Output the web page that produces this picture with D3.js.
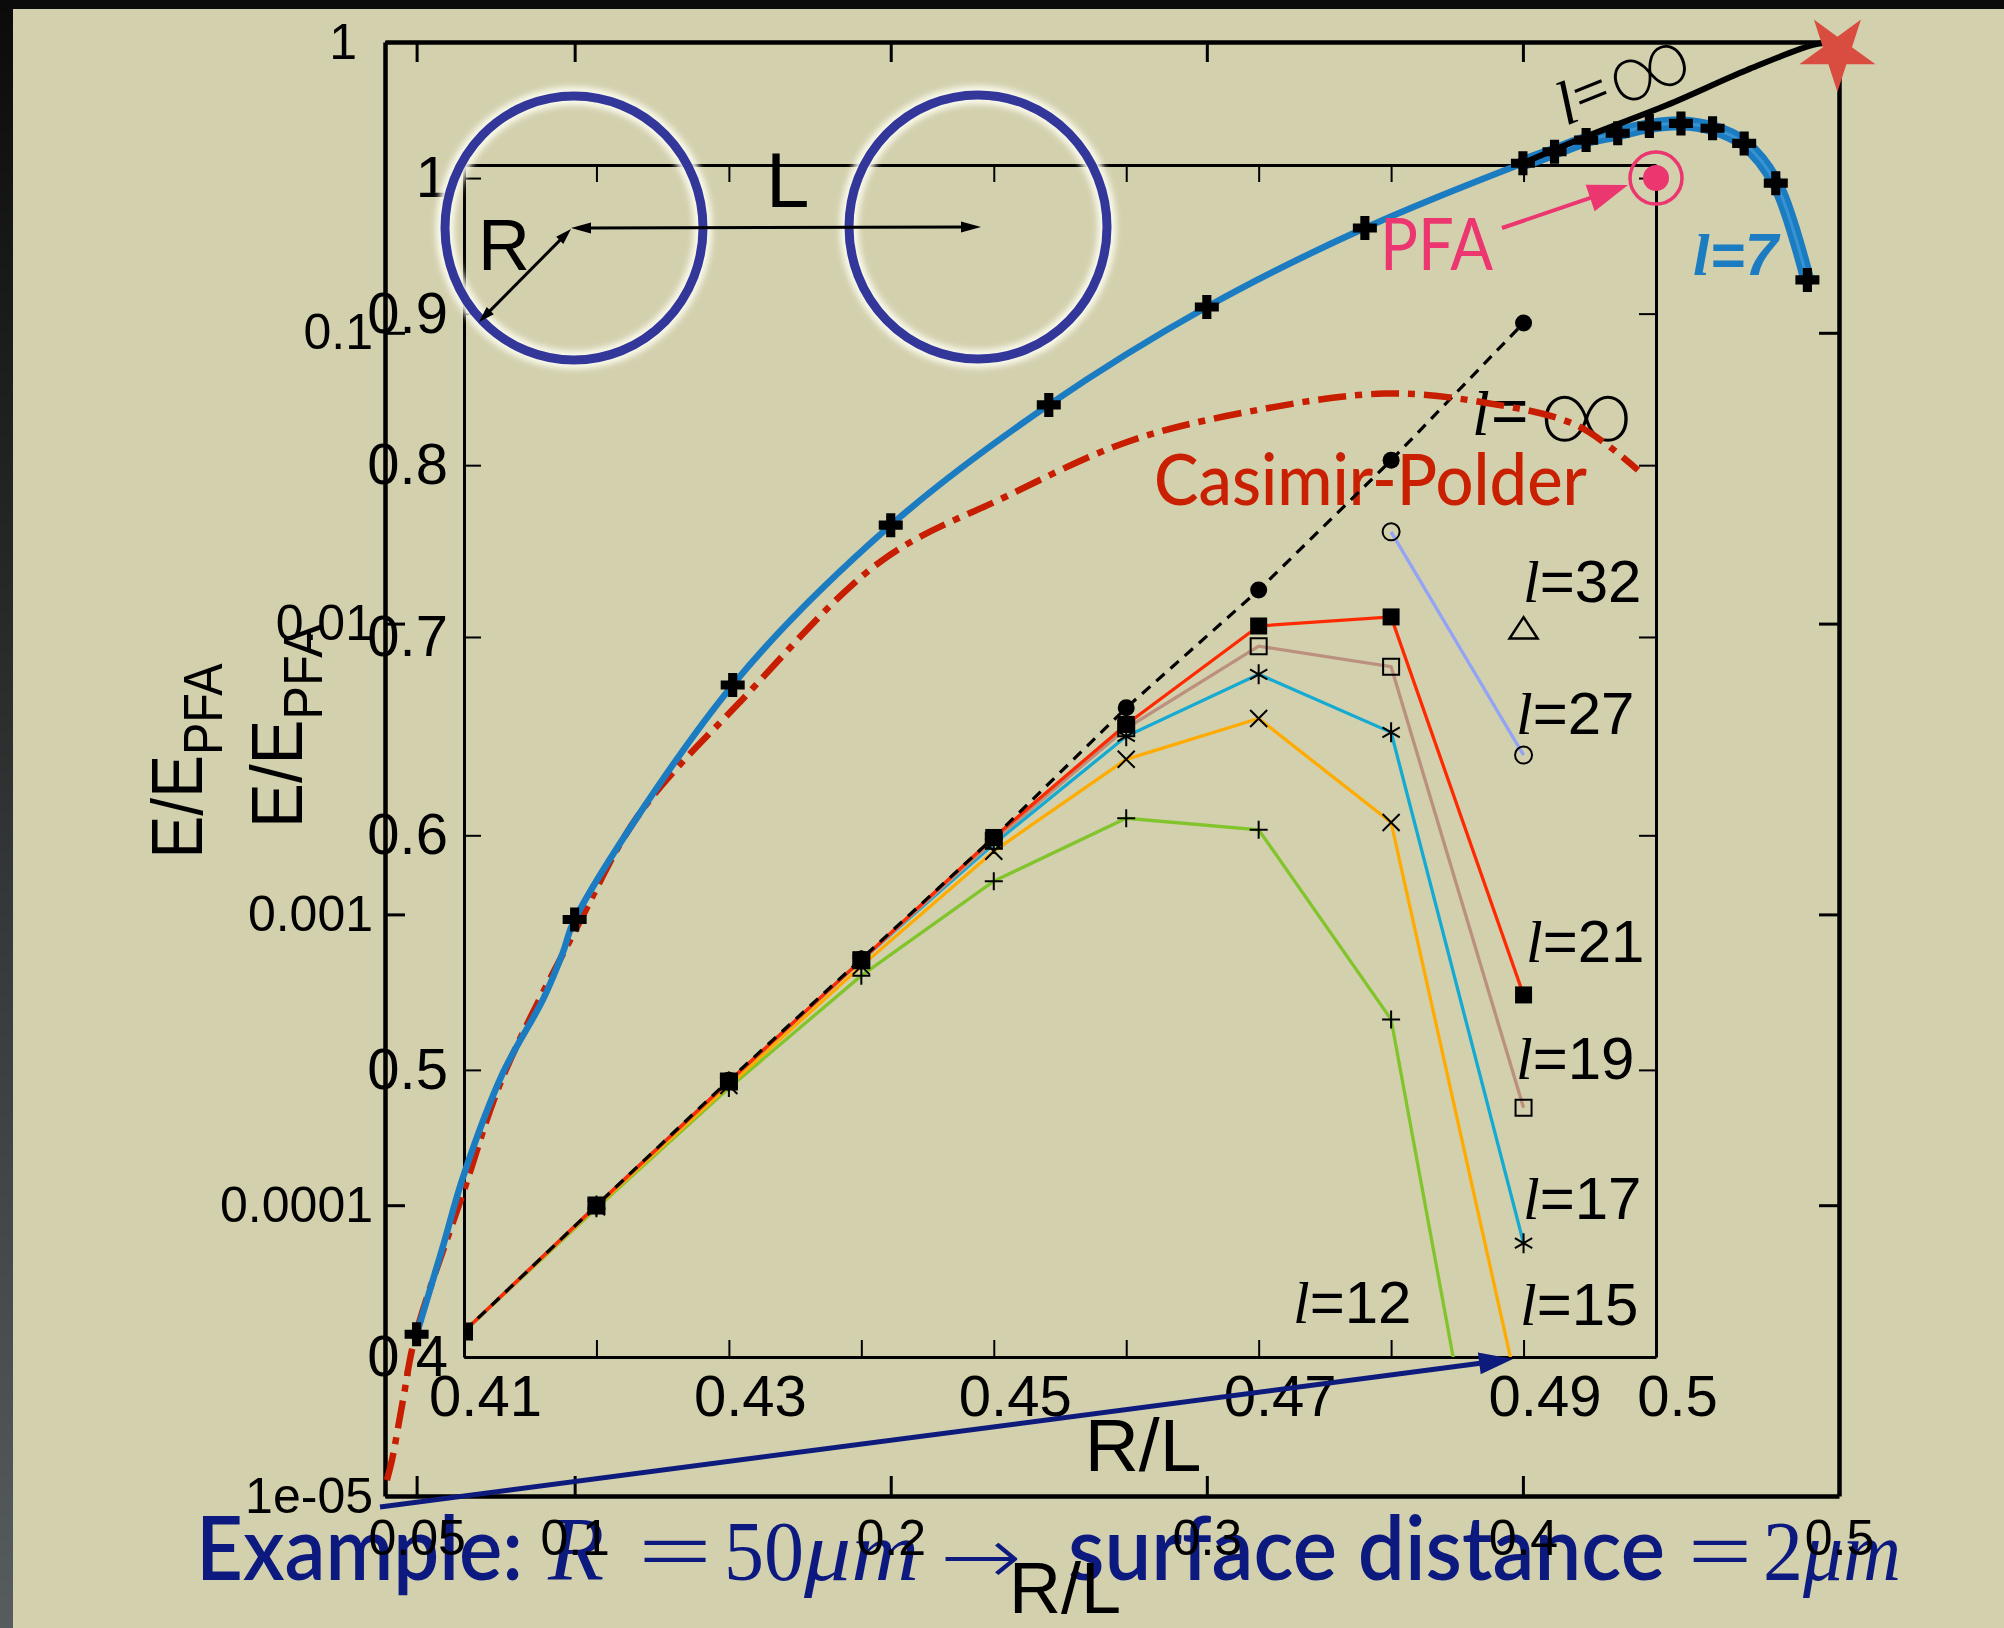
<!DOCTYPE html>
<html>
<head>
<meta charset="utf-8">
<title>E/EPFA versus R/L</title>
<script src="https://cdn.jsdelivr.net/npm/d3@7"></script>
<style>
  html, body { margin: 0; padding: 0; background: #d3d0ae; }
  svg { display: block; }
</style>
</head>
<body>
<script>
// ---------- values ----------

// outer plot: R/L linear, E/EPFA log
const outerXTicks = [0.05, 0.1, 0.2, 0.3, 0.4, 0.5];
const outerXLabels = ['0.05', '0.1', '0.2', '0.3', '0.4', '0.5'];
const outerYTicks = [1e-5, 1e-4, 1e-3, 1e-2, 0.1, 1];
const outerYLabels = ['1e-05', '0.0001', '0.001', '0.01', '0.1', '1'];

// l = 7 curve (blue), markers sit on some of its points
const l7X = [0.05, 0.0583, 0.0647, 0.0773, 0.09, 0.0963, 0.1, 0.15, 0.2, 0.25, 0.3, 0.35, 0.4,
             0.41, 0.42, 0.43, 0.44, 0.45, 0.46, 0.47, 0.48, 0.49];
const l7Y = [3.6e-5, 7.2e-5, 1.25e-4, 2.85e-4, 5.1e-4, 7.4e-4, 9.6e-4, 6.15e-3, 0.0218, 0.0565, 0.1227, 0.2293, 0.383,
             0.4195, 0.460, 0.4853, 0.514, 0.525, 0.505, 0.448, 0.327, 0.152];
const l7MarkX = [0.05, 0.1, 0.15, 0.2, 0.25, 0.3, 0.35, 0.4, 0.41, 0.42, 0.43, 0.44, 0.45, 0.46, 0.47, 0.48, 0.49];

// l = infinity limit (black, outer plot)
const lInfOuterX = [0.40, 0.4212, 0.4456, 0.4709, 0.4918, 0.4985];
const lInfOuterY = [0.383, 0.4786, 0.607, 0.801, 0.977, 1.0];

// Casimir-Polder (red dash-dot)
const cpX = [0.0406, 0.0422, 0.0457, 0.0495, 0.0647, 0.0773, 0.1011, 0.1204, 0.1526, 0.1972,
             0.2355, 0.2757, 0.3162, 0.3564, 0.3867, 0.4171, 0.4364];
const cpY = [1.135e-5, 1.33e-5, 2.14e-5, 3.52e-5, 1.10e-4, 2.76e-4, 9.2e-4, 2.21e-3, 5.42e-3, 0.01648,
             0.02704, 0.04246, 0.0543, 0.0618, 0.0578, 0.048, 0.0337];

// star at the touching limit
const starX = [0.4995];
const starY = [0.924];

// inner plot: R/L 0.41..0.5, E/EPFA 0.4..1 (log)
const innerXTicks = [0.41, 0.42, 0.43, 0.44, 0.45, 0.46, 0.47, 0.48, 0.49, 0.5];
const innerXLabels = ['0.41', '', '0.43', '', '0.45', '', '0.47', '', '0.49', '0.5'];
const innerYTicks = [0.4, 0.5, 0.6, 0.7, 0.8, 0.9, 1];
const innerYLabels = ['0.4', '0.5', '0.6', '0.7', '0.8', '0.9', '1'];

const rl = [0.41, 0.42, 0.43, 0.44, 0.45, 0.46, 0.47, 0.48, 0.49];
const lInf = [0.408, 0.450, 0.496, 0.545, 0.599, 0.6625, 0.726, 0.803, 0.8935];
const l21 = [0.408, 0.450, 0.4955, 0.5445, 0.599, 0.654, 0.706, 0.711, 0.530];
const l19 = [0.408, 0.450, 0.4955, 0.5445, 0.5975, 0.652, 0.695, 0.684, 0.4855];
const l17 = [0.408, 0.450, 0.4955, 0.5445, 0.596, 0.648, 0.680, 0.650, 0.437];
const l15 = [0.408, 0.4495, 0.494, 0.542, 0.5926, 0.6365, 0.657, 0.606, 0.382];
const l12 = [0.408, 0.449, 0.493, 0.538, 0.579, 0.608, 0.6026, 0.520, 0.297];
const l27X = [0.48, 0.49];
const l27 = [0.7596, 0.6386];
const l32X = [0.49];
const l32 = [0.7047];

// PFA point
const pfaX = [0.5];
const pfaY = [1.0];

// ---------- drawing ----------
const W = 2004, H = 1628;
const SANS = "'Liberation Sans', Arial, Helvetica, sans-serif";
const SERIF = "'Liberation Serif', 'Times New Roman', serif";
const SLIDE = "Lato, 'Open Sans', sans-serif";
const THIN = "Roboto, 'DejaVu Sans', sans-serif";
const BLUE = '#1b7cc1', NAVY = '#0c1a80', PINK = '#ec3670';

const svg = d3.select('body').append('svg').attr('width', W).attr('height', H);
const defs = svg.append('defs');

// background and slide frame
svg.append('rect').attr('width', W).attr('height', H).attr('fill', '#d3d0ae');
const edge = defs.append('linearGradient').attr('id', 'edge')
    .attr('x1', 0).attr('y1', 0).attr('x2', 0).attr('y2', 1);
edge.append('stop').attr('offset', 0).attr('stop-color', '#0b0b0b');
edge.append('stop').attr('offset', 1).attr('stop-color', '#575c5c');
svg.append('rect').attr('width', 13).attr('height', H).attr('fill', 'url(#edge)');
svg.append('rect').attr('width', W).attr('height', 9).attr('fill', '#0b0b0b');

// scales
const ox = d3.scaleLinear().domain([0.04, 0.5]).range([385, 1839]);
const oy = d3.scaleLog().domain([1e-5, 1]).range([1496, 42]);
const ix = d3.scaleLinear().domain([0.41, 0.5]).range([464, 1656]);
const iy = d3.scaleLog().domain([0.4, 1.0102]).range([1357, 165]);

function txt(g, x, y, s, o) {
    const t = g.append('text').attr('x', x).attr('y', y).text(s)
        .style('font-family', o.f || SANS)
        .style('font-size', o.size + 'px')
        .attr('fill', o.fill || '#000');
    if (o.italic) t.style('font-style', 'italic');
    if (o.weight) t.style('font-weight', o.weight);
    if (o.anchor) t.attr('text-anchor', o.anchor);
    if (o.len) t.attr('textLength', o.len).attr('lengthAdjust', 'spacingAndGlyphs');
    return t;
}

function arrow(g, x1, y1, x2, y2, o) {
    const dx = x2 - x1, dy = y2 - y1, L = Math.hypot(dx, dy), ux = dx / L, uy = dy / L;
    const head = (tx, ty, sx, sy) => {
        const bx = tx - sx * o.hl, by = ty - sy * o.hl;
        return [[tx, ty], [bx - sy * o.hw / 2, by + sx * o.hw / 2], [bx + sy * o.hw / 2, by - sx * o.hw / 2]];
    };
    const a = o.both ? o.hl * 0.8 : 0, b = o.hl * 0.8;
    g.append('line')
        .attr('x1', x1 + ux * a).attr('y1', y1 + uy * a)
        .attr('x2', x2 - ux * b).attr('y2', y2 - uy * b)
        .attr('stroke', o.color).attr('stroke-width', o.w);
    g.append('polygon').attr('points', head(x2, y2, ux, uy).join(' ')).attr('fill', o.color);
    if (o.both) g.append('polygon').attr('points', head(x1, y1, -ux, -uy).join(' ')).attr('fill', o.color);
}

function styleAxis(a, lineW, tickW, size) {
    a.attr('font-family', SANS).attr('font-size', size);
    a.select('.domain').attr('stroke', '#000').attr('stroke-width', lineW);
    a.selectAll('.tick line').attr('stroke', '#000').attr('stroke-width', tickW);
    a.selectAll('.tick text').attr('fill', '#000');
    return a;
}

// ---- slide text underneath the plots ----
const ex = svg.append('g');
txt(ex, 196, 1580, 'Example:', {f: SLIDE, size: 88, len: 327, fill: NAVY, weight: 600});
txt(ex, 548, 1580, 'R', {f: SERIF, size: 92, italic: true, fill: NAVY});
txt(ex, 638, 1580, '=', {f: SERIF, size: 84, len: 74, fill: NAVY});
txt(ex, 724, 1580, '50', {f: SERIF, size: 84, len: 80, fill: NAVY});
txt(ex, 804, 1580, 'μm', {f: SERIF, size: 84, italic: true, len: 115, fill: NAVY});
txt(ex, 940, 1584, '→', {f: "'DejaVu Sans', sans-serif", size: 80, len: 82, fill: NAVY, weight: 200});
txt(ex, 1068, 1580, 'surface distance', {f: SLIDE, size: 88, len: 597, fill: NAVY, weight: 600});
txt(ex, 1688, 1580, '=', {f: SERIF, size: 84, len: 64, fill: NAVY});
txt(ex, 1763, 1580, '2', {f: SERIF, size: 84, len: 40, fill: NAVY});
txt(ex, 1803, 1580, 'μm', {f: SERIF, size: 84, italic: true, len: 98, fill: NAVY});

// curve labels of the inner plot
const lab = svg.append('g');
function lLabel(x, y, rest) {
    const t = lab.append('text').attr('x', x).attr('y', y).style('font-size', '60px').attr('fill', '#000');
    t.append('tspan').style('font-family', SERIF).style('font-style', 'italic').text('l');
    t.append('tspan').style('font-family', SANS).text(rest);
}
lLabel(1523, 602, '=32');
lLabel(1516, 734, '=27');
lLabel(1526, 962, '=21');
lLabel(1516, 1079, '=19');
lLabel(1523, 1219, '=17');
lLabel(1520, 1325, '=15');
lLabel(1293, 1323, '=12');
txt(lab, 1472, 435, 'l', {f: SERIF, size: 64, italic: true});
txt(lab, 1491, 433, '=', {size: 64});
txt(lab, 1539, 441, '∞', {f: THIN, size: 84, len: 95, weight: 200});
txt(lab, 1154, 505, 'Casimir-Polder', {f: SLIDE, size: 72, len: 433, fill: '#c82000', weight: 500});

// ---- inner plot ----
const inner = svg.append('g');
defs.append('clipPath').attr('id', 'innerClip').append('rect')
    .attr('x', 464).attr('y', 165).attr('width', 1192).attr('height', 1192);

styleAxis(inner.append('g').attr('transform', 'translate(0,1357)')
    .call(d3.axisBottom(ix).tickValues(innerXTicks).tickSize(-17).tickSizeOuter(0).tickPadding(18)
        .tickFormat((d, i) => innerXLabels[i])), 3, 2, 58)
    .selectAll('.tick text').attr('dx', 21);
styleAxis(inner.append('g').attr('transform', 'translate(0,165)')
    .call(d3.axisTop(ix).tickValues(innerXTicks).tickSize(-17).tickSizeOuter(0).tickFormat('')), 3, 2, 58);
styleAxis(inner.append('g').attr('transform', 'translate(464,0)')
    .call(d3.axisLeft(iy).tickValues(innerYTicks).tickSize(-17).tickSizeOuter(0).tickPadding(16)
        .tickFormat((d, i) => innerYLabels[i])), 3, 2, 58);
styleAxis(inner.append('g').attr('transform', 'translate(1656,0)')
    .call(d3.axisRight(iy).tickValues(innerYTicks).tickSize(-17).tickSizeOuter(0).tickFormat('')), 3, 2, 58);

// marker shapes (size argument = radius in px)
const shapes = {
    plus: {draw(c, r) { c.moveTo(-r, 0); c.lineTo(r, 0); c.moveTo(0, -r); c.lineTo(0, r); }},
    times: {draw(c, r) { c.moveTo(-r, -r); c.lineTo(r, r); c.moveTo(-r, r); c.lineTo(r, -r); }},
    star6: {draw(c, r) {
        for (let k = 0; k < 3; k++) {
            const a = Math.PI / 2 + k * Math.PI / 3;
            c.moveTo(-r * Math.cos(a), -r * Math.sin(a)); c.lineTo(r * Math.cos(a), r * Math.sin(a));
        }
    }},
    square: {draw(c, r) { c.rect(-r, -r, 2 * r, 2 * r); }},
    circle: {draw(c, r) { c.moveTo(r, 0); c.arc(0, 0, r, 0, 2 * Math.PI); }},
    triangle: {draw(c, r) { c.moveTo(0, -r * 0.8); c.lineTo(r, r * 0.72); c.lineTo(-r, r * 0.72); c.closePath(); }},
    bold: {draw(c, r) {
        const t = r * 0.38;
        c.moveTo(-t, -r); c.lineTo(t, -r); c.lineTo(t, -t); c.lineTo(r, -t); c.lineTo(r, t); c.lineTo(t, t);
        c.lineTo(t, r); c.lineTo(-t, r); c.lineTo(-t, t); c.lineTo(-r, t); c.lineTo(-r, -t); c.lineTo(-t, -t);
        c.closePath();
    }}
};

const innerSeries = [
    {x: rl, y: l12, color: '#82c42b', shape: 'plus', r: 9, fill: 'none'},
    {x: rl, y: l15, color: '#ffab00', shape: 'times', r: 8.5, fill: 'none'},
    {x: rl, y: l17, color: '#14aad2', shape: 'star6', r: 10, fill: 'none'},
    {x: rl, y: l19, color: '#bb907e', shape: 'square', r: 8, fill: 'none'},
    {x: rl, y: l21, color: '#ff2a00', shape: 'square', r: 8.5, fill: '#000'},
    {x: l27X, y: l27, color: '#94a4f4', shape: 'circle', r: 8.5, fill: 'none'},
    {x: l32X, y: l32, color: '#000', shape: 'triangle', r: 14, fill: 'none'},
    {x: rl, y: lInf, color: '#000', shape: 'circle', r: 8.5, fill: '#000', dash: '11 8'}
];

const iLine = d3.line().x(d => ix(d[0])).y(d => iy(d[1]));
const plotArea = inner.append('g').attr('clip-path', 'url(#innerClip)');
innerSeries.forEach(s => {
    const pts = s.x.map((x, i) => [x, s.y[i]]);
    if (pts.length > 1) {
        plotArea.append('path').attr('d', iLine(pts)).attr('fill', 'none')
            .attr('stroke', s.color).attr('stroke-width', s.dash ? 3.2 : 3.3)
            .attr('stroke-dasharray', s.dash || null);
    }
});
innerSeries.forEach(s => {
    const pts = s.x.map((x, i) => [x, s.y[i]]);
    plotArea.selectAll(null).data(pts).enter().append('path')
        .attr('transform', d => `translate(${ix(d[0])},${iy(d[1])})`)
        .attr('d', d3.symbol().type(shapes[s.shape]).size(s.r))
        .attr('fill', s.fill)
        .attr('stroke', s.fill === 'none' ? '#000' : 'none')
        .attr('stroke-width', s.shape === 'triangle' ? 2.5 : 2);
});

// ---- outer plot ----
const outer = svg.append('g');
styleAxis(outer.append('g').attr('transform', 'translate(0,1496)')
    .call(d3.axisBottom(ox).tickValues(outerXTicks).tickSize(-20).tickSizeOuter(0).tickPadding(23)
        .tickFormat((d, i) => outerXLabels[i])), 4.5, 3, 50);
styleAxis(outer.append('g').attr('transform', 'translate(0,42)')
    .call(d3.axisTop(ox).tickValues(outerXTicks).tickSize(-20).tickSizeOuter(0).tickFormat('')), 4.5, 3, 50);
styleAxis(outer.append('g').attr('transform', 'translate(385,0)')
    .call(d3.axisLeft(oy).tickValues(outerYTicks).tickSize(-20).tickSizeOuter(0).tickPadding(12)
        .tickFormat((d, i) => outerYLabels[i])), 4.5, 3, 50)
    .selectAll('.tick text').attr('dx', d => d === 1 ? -16 : 0);
styleAxis(outer.append('g').attr('transform', 'translate(1839,0)')
    .call(d3.axisRight(oy).tickValues(outerYTicks).tickSize(-20).tickSizeOuter(0).tickFormat('')), 4.5, 3, 50);

const oLine = d3.line().x(d => ox(d[0])).y(d => oy(d[1])).curve(d3.curveCatmullRom.alpha(0.5));

// Casimir-Polder
outer.append('path').attr('d', oLine(cpX.map((x, i) => [x, cpY[i]])))
    .attr('fill', 'none').attr('stroke', '#c81e00').attr('stroke-width', 6.5)
    .attr('stroke-dasharray', '28 9 7 9');

// l = 7
const l7Pts = l7X.map((x, i) => [x, l7Y[i]]);
outer.append('path').attr('d', oLine(l7Pts))
    .attr('fill', 'none').attr('stroke', BLUE).attr('stroke-width', 6.5);
const thick = l7Pts.filter(d => d[0] >= 0.40);
outer.append('path').attr('d', oLine(thick))
    .attr('fill', 'none').attr('stroke', BLUE).attr('stroke-width', 14).attr('stroke-linecap', 'round');
outer.append('path').attr('d', oLine(thick))
    .attr('fill', 'none').attr('stroke', '#3794d4').attr('stroke-width', 3);

// l = infinity
outer.append('path').attr('d', oLine(lInfOuterX.map((x, i) => [x, lInfOuterY[i]])))
    .attr('fill', 'none').attr('stroke', '#000').attr('stroke-width', 6);

// markers on l = 7
outer.selectAll('.l7mark').data(l7MarkX).enter().append('path')
    .attr('class', 'l7mark')
    .attr('transform', d => `translate(${ox(d)},${oy(l7Y[l7X.indexOf(d)])})`)
    .attr('d', d3.symbol().type(shapes.bold).size(12))
    .attr('fill', '#000');

// star
outer.selectAll('.star').data(starX).enter().append('path')
    .attr('class', 'star')
    .attr('transform', (d, i) => `translate(${ox(d)},${oy(starY[i])}) rotate(180)`)
    .attr('d', d3.symbol().type(d3.symbolStar).size(1800))
    .attr('fill', '#d94c40');

// axis titles
txt(svg, 1065, 1613, 'R/L', {size: 72, anchor: 'middle'});
txt(svg, 1143, 1471, 'R/L', {size: 75, anchor: 'middle'});
function yTitle(x, y, sc) {
    const t = svg.append('text').attr('text-anchor', 'middle')
        .attr('transform', `translate(${x},${y}) rotate(-90) scale(${sc},1)`)
        .style('font-family', SANS).style('font-size', '73px').attr('fill', '#000');
    t.append('tspan').text('E/E');
    t.append('tspan').attr('dy', 20).style('font-size', '55px').text('PFA');
}
yTitle(202, 761, 0.88);
yTitle(302, 726, 0.92);

// ---- overlays: geometry sketch, PFA marker, labels ----
const glow = defs.append('filter').attr('id', 'glow')
    .attr('x', '-20%').attr('y', '-20%').attr('width', '140%').attr('height', '140%');
glow.append('feGaussianBlur').attr('stdDeviation', 3);

const sketch = svg.append('g');
[[574, 228], [978, 227]].forEach(c => {
    sketch.append('ellipse').attr('cx', c[0]).attr('cy', c[1]).attr('rx', 129).attr('ry', 132)
        .attr('fill', 'none').attr('stroke', '#fbfbee').attr('stroke-width', 18).attr('filter', 'url(#glow)');
    sketch.append('ellipse').attr('cx', c[0]).attr('cy', c[1]).attr('rx', 129).attr('ry', 132)
        .attr('fill', 'none').attr('stroke', '#33379a').attr('stroke-width', 9);
});
arrow(sketch, 571, 228, 981, 227, {w: 3, color: '#000', hl: 20, hw: 11, both: true});
arrow(sketch, 571, 229, 479, 322, {w: 3, color: '#000', hl: 16, hw: 10, both: true});
txt(sketch, 478, 270, 'R', {size: 72});
txt(sketch, 766, 207, 'L', {size: 78});

// PFA
const pfa = svg.append('g');
pfa.selectAll('.ring').data(pfaX).enter().append('circle').attr('class', 'ring')
    .attr('cx', d => ix(d)).attr('cy', (d, i) => iy(pfaY[i])).attr('r', 26)
    .attr('fill', 'none').attr('stroke', PINK).attr('stroke-width', 3.5);
pfa.selectAll('.dot').data(pfaX).enter().append('circle').attr('class', 'dot')
    .attr('cx', d => ix(d)).attr('cy', (d, i) => iy(pfaY[i])).attr('r', 13)
    .attr('fill', PINK);
arrow(pfa, 1502, 228, 1628, 185, {w: 4, color: PINK, hl: 40, hw: 28});
txt(pfa, 1380, 270, 'PFA', {f: SLIDE, size: 72, len: 113, fill: PINK});

// l = 7 label
const l7t = svg.append('text').attr('x', 1693).attr('y', 275)
    .style('font-size', '60px').style('font-weight', 'bold').style('font-style', 'italic')
    .attr('fill', BLUE);
l7t.append('tspan').style('font-family', SERIF).text('l');
l7t.append('tspan').style('font-family', SANS).text('=7');

// rotated l = infinity label
const linf = svg.append('g').attr('transform', 'translate(1566,126) rotate(-22)');
txt(linf, 0, 0, 'l', {f: SERIF, size: 62, italic: true});
txt(linf, 18, -2, '=', {f: SERIF, size: 62});
txt(linf, 56, 2, '∞', {f: THIN, size: 76, len: 84, weight: 200});

// navy pointer from the bottom to the zoom
arrow(svg, 380, 1507, 1513, 1359, {w: 5, color: '#0d1b7c', hl: 34, hw: 22});
</script>
</body>
</html>
